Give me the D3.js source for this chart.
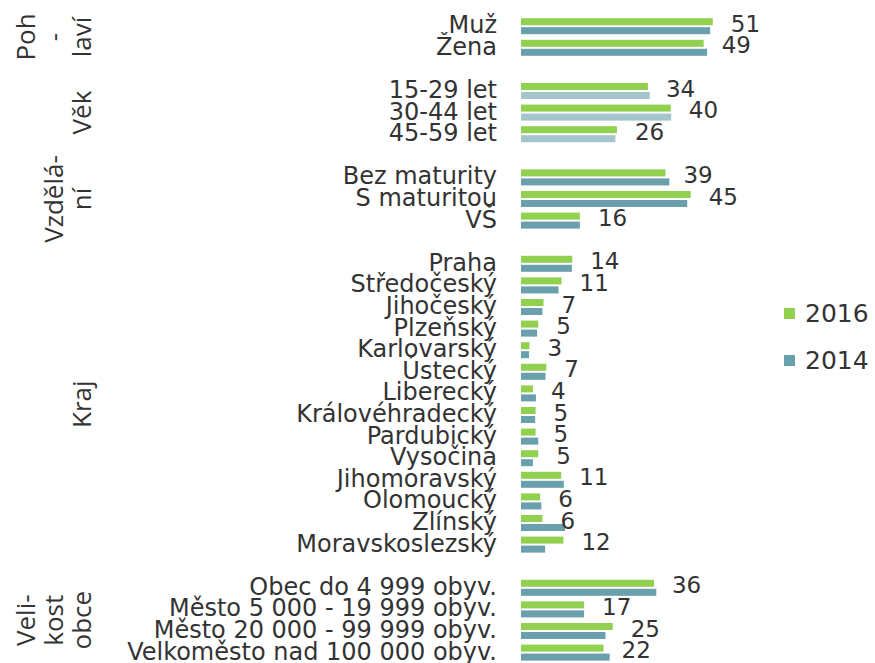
<!DOCTYPE html>
<html>
<head>
<meta charset="utf-8">
<script src="https://cdn.jsdelivr.net/npm/d3@7"></script>
<style>
  body { margin: 0; background: #fff; }
  svg text { fill: #333; }
</style>
</head>
<body>
<svg id="chart"></svg>
<script>
const groupLabels = [["Poh", "-", "laví"], ["Věk"], ["Vzdělá-", "ní"], ["Kraj"], ["Veli-", "kost", "obce"]];
const groupSizes = [2, 3, 3, 14, 4];

const categories = [
  "Muž", "Žena",
  "15-29 let", "30-44 let", "45-59 let",
  "Bez maturity", "S maturitou", "VŠ",
  "Praha", "Středočeský", "Jihočeský", "Plzeňský", "Karlovarský", "Ústecký", "Liberecký",
  "Královéhradecký", "Pardubický", "Vysočina", "Jihomoravský", "Olomoucký", "Zlínský", "Moravskoslezský",
  "Obec do 4 999 obyv.", "Město 5 000 - 19 999 obyv.", "Město 20 000 - 99 999 obyv.", "Velkoměsto nad 100 000 obyv."
];

const values2016 = [51.0, 48.6, 34.0, 40.0, 25.9, 38.6, 45.2, 16.2, 14.2, 11.4, 6.7, 5.3, 3.0, 7.4,
  3.9, 4.6, 4.6, 5.3, 11.3, 5.8, 6.4, 11.9, 35.6, 17.3, 24.8, 22.4];
const values2014 = [50.3, 49.5, 34.5, 40.1, 25.5, 39.6, 44.3, 16.2, 14.1, 10.6, 6.4, 5.0, 2.9, 7.2,
  4.7, 4.5, 5.3, 3.9, 12.0, 6.1, 12.3, 7.1, 36.2, 17.3, 22.9, 24.0];

const seriesNames = ["2016", "2014"];

const ctx = {
  width: 875,
  height: 663,
  top: 15.4,
  bottom: 663.4,
  zeroX: 518,
  green: "#92D050",
  blue: "#6A9FAE",
  lightBlue: "#A5C5CC",
  font: "'DejaVu Sans', Verdana, sans-serif"
};

const svg = d3.select("#chart")
  .attr("width", ctx.width)
  .attr("height", ctx.height);

// build the slot list: categories plus one empty slot between groups
const slots = [];
const rows = [];
let idx = 0;
groupSizes.forEach((n, g) => {
  const first = slots.length;
  for (let i = 0; i < n; i++) {
    slots.push("c" + idx);
    rows.push({ key: "c" + idx, name: categories[idx], g: g, v2016: values2016[idx], v2014: values2014[idx] });
    idx++;
  }
  groupLabels[g].range = [first, slots.length - 1];
  if (g < groupSizes.length - 1) slots.push("gap" + g);
});

const y = d3.scaleBand()
  .domain(slots)
  .range([ctx.top, ctx.bottom]);

const ySub = d3.scaleBand()
  .domain(seriesNames)
  .range([0, y.bandwidth()])
  .paddingInner(0.22)
  .paddingOuter(0.31);

const x = d3.scaleLinear()
  .domain([0, 60])
  .range([ctx.zeroX, ctx.zeroX + 3.82 * 60]);

const barStart = x(0) + 3;

const rowG = svg.selectAll("g.row")
  .data(rows)
  .enter()
  .append("g")
    .attr("class", "row")
    .attr("transform", d => `translate(0, ${y(d.key)})`);

rowG.append("rect")
  .attr("x", barStart)
  .attr("y", ySub("2016"))
  .attr("width", d => x(d.v2016) - barStart)
  .attr("height", ySub.bandwidth())
  .attr("fill", ctx.green);

rowG.append("rect")
  .attr("x", barStart)
  .attr("y", ySub("2014"))
  .attr("width", d => x(d.v2014) - barStart)
  .attr("height", ySub.bandwidth())
  .attr("fill", d => d.g === 1 ? ctx.lightBlue : ctx.blue);

// category labels
rowG.append("text")
  .attr("x", 497)
  .attr("y", y.bandwidth() / 2 + 7)
  .attr("text-anchor", "end")
  .style("font-family", ctx.font)
  .style("font-size", "24px")
  .text(d => d.name);

// value labels (2016)
rowG.append("text")
  .attr("x", d => x(d.v2016) + 18)
  .attr("y", y.bandwidth() / 2 + 5.5)
  .style("font-family", ctx.font)
  .style("font-size", "23px")
  .text(d => d3.format(".0f")(d.v2016));

// group labels, rotated
groupLabels.forEach(lines => {
  const y0 = y(slots[lines.range[0]]);
  const y1 = y(slots[lines.range[1]]) + y.bandwidth();
  const cy = (y0 + y1) / 2;
  const t = svg.append("text")
    .attr("transform", `translate(91, ${cy}) rotate(-90)`)
    .attr("text-anchor", "middle")
    .style("font-family", "'Open Sans', sans-serif")
    .style("font-size", "26px");
  lines.forEach((line, i) => {
    t.append("tspan")
      .attr("x", 0)
      .attr("y", -(lines.length - 1 - i) * 28)
      .text(line);
  });
});

// legend
const legend = svg.selectAll("g.legend")
  .data(seriesNames)
  .enter()
  .append("g")
    .attr("class", "legend")
    .attr("transform", (d, i) => `translate(784, ${308 + i * 47})`);

legend.append("rect")
  .attr("width", 11)
  .attr("height", 11)
  .attr("fill", d => d === "2016" ? ctx.green : ctx.blue);

legend.append("text")
  .attr("x", 21)
  .attr("y", 14)
  .style("font-family", ctx.font)
  .style("font-size", "25px")
  .text(d => d);
</script>
</body>
</html>
